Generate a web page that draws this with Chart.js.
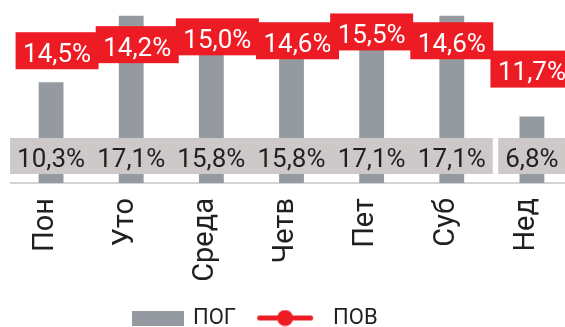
<!DOCTYPE html>
<html>
<head>
<meta charset="utf-8">
<script src="https://cdn.jsdelivr.net/npm/chart.js@4/dist/chart.umd.min.js"></script>
<style>
  html, body { margin: 0; padding: 0; background: #fff; overflow: hidden; }
  #chart { display: block; }
</style>
</head>
<body>
<canvas id="chart" width="572" height="327"></canvas>
<script>
const days = ['Пон', 'Уто', 'Среда', 'Четв', 'Пет', 'Суб', 'Нед'];
const pog = [10.3, 17.1, 15.8, 15.8, 17.1, 17.1, 6.8];
const pov = [14.5, 14.2, 15.0, 14.6, 15.5, 14.6, 11.7];

const GRAY = '#949a9f';
const BAND = '#cdc9c8';
const RED = '#ed1c24';
const INK = '#231f20';
const FONT = 'Roboto';

function pct(v) {
    return v.toFixed(1).replace('.', ',') + '%';
}

// legend swatches, drawn off-screen and handed to the legend as point styles
function barSwatch() {
    const c = document.createElement('canvas');
    c.width = 82; c.height = 15;
    const g = c.getContext('2d');
    g.fillStyle = GRAY;
    g.fillRect(29, 0, 52, 15);
    return c;
}

function lineSwatch() {
    const c = document.createElement('canvas');
    c.width = 64; c.height = 17;
    const g = c.getContext('2d');
    g.strokeStyle = RED;
    g.lineWidth = 5;
    g.lineCap = 'round';
    g.beginPath();
    g.moveTo(7.5, 8.5);
    g.lineTo(58.5, 8.5);
    g.stroke();
    g.fillStyle = RED;
    g.beginPath();
    g.arc(33, 8.5, 8, 0, Math.PI * 2);
    g.fill();
    return c;
}

// value boxes: grey band above the axis for ПОГ, red tags on the line for ПОВ
const valueBoxes = {
    id: 'valueBoxes',
    afterDatasetsDraw(chart, args, opts) {
        const ctx = chart.ctx;
        const base = chart.scales.y.getPixelForValue(0);
        ctx.save();
        ctx.font = '26px ' + FONT;
        ctx.textAlign = 'center';
        ctx.textBaseline = 'alphabetic';

        chart.getDatasetMeta(0).data.forEach((bar, i) => {
            const t = pct(pog[i]);
            const w = ctx.measureText(t).width + 14;
            const top = base - 45;
            ctx.fillStyle = BAND;
            ctx.fillRect(bar.x - w / 2, top, w, 36);
            ctx.fillStyle = INK;
            ctx.fillText(t, bar.x, top + 28.5);
        });

        chart.getDatasetMeta(1).data.forEach((pt, i) => {
            const t = pct(pov[i]);
            const w = ctx.measureText(t).width + 15;
            const [dx, dy] = opts.nudge[i] || [0, 0];
            const cx = pt.x + dx;
            const cy = pt.y + dy;
            ctx.fillStyle = RED;
            ctx.fillRect(cx - w / 2, cy - 18, w, 37);
            ctx.fillStyle = '#fff';
            ctx.fillText(t, cx, cy + 11.5);
        });
        ctx.restore();
    }
};

// put the legend row under the left part of the plot
const legendPlace = {
    id: 'legendPlace',
    afterLayout(chart) {
        const lg = chart.legend;
        const dx = 106 - lg.options.labels.padding - lg.left;
        const dy = 12;
        lg.left += dx; lg.right += dx;
        lg.top += dy; lg.bottom += dy;
    }
};

const ctx = document.getElementById('chart').getContext('2d');
const chart = new Chart(ctx, {
    data: {
        labels: days,
        datasets: [{
            type: 'bar',
            label: 'ПОГ',
            data: pog,
            backgroundColor: GRAY,
            barPercentage: 0.31,
            categoryPercentage: 1,
            order: 1
        }, {
            type: 'line',
            label: 'ПОВ',
            data: pov,
            borderColor: RED,
            backgroundColor: RED,
            borderWidth: 4,
            pointRadius: 0,
            order: 0
        }]
    },
    options: {
        responsive: false,
        animation: false,
        layout: { padding: { left: 11, top: 7, right: 0, bottom: 0 } },
        scales: {
            x: {
                // gap under the axis comes from an undrawn tick mark, so the
                // rotated labels do not eat into the plot width
                grid: { display: false, drawTicks: true, tickLength: 15 },
                border: { display: true, color: '#d6d3d3', width: 2 },
                ticks: {
                    autoSkip: false,
                    minRotation: 90,
                    maxRotation: 90,
                    padding: 0,
                    labelOffset: -5.5,
                    color: INK,
                    font: { family: FONT, size: 29 }
                },
                afterFit(scale) { scale.height = 102; }
            },
            y: {
                display: false,
                min: 0,
                max: 18
            }
        },
        plugins: {
            tooltip: { enabled: false },
            // tags that sit shifted sideways / down so neighbours do not collide
            valueBoxes: { nudge: { 0: [6, 9], 1: [6, 0], 2: [6, 0], 3: [6, 0] } },
            legend: {
                position: 'bottom',
                align: 'start',
                labels: {
                    usePointStyle: true,
                    pointStyleWidth: 76,
                    boxHeight: 15,
                    padding: 10,
                    color: INK,
                    font: { family: FONT, size: 22 },
                    generateLabels: () => [
                        { text: 'ПОГ', pointStyle: barSwatch(), fillStyle: GRAY, strokeStyle: GRAY, lineWidth: 0, fontColor: INK, datasetIndex: 0 },
                        { text: 'ПОВ', pointStyle: lineSwatch(), fillStyle: RED, strokeStyle: RED, lineWidth: 0, fontColor: INK, datasetIndex: 1 }
                    ]
                }
            }
        }
    },
    plugins: [valueBoxes, legendPlace]
});
</script>
</body>
</html>
